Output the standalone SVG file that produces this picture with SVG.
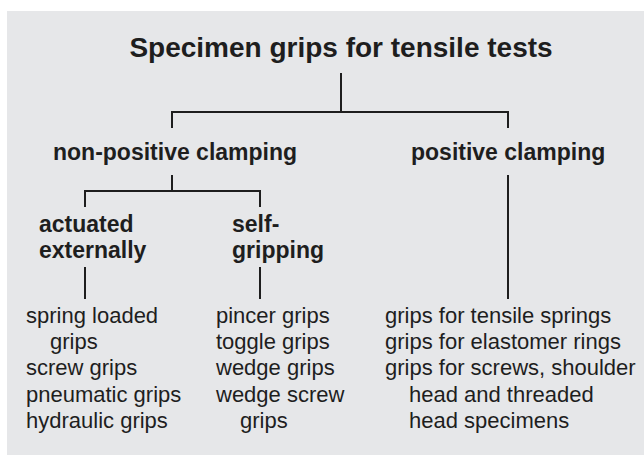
<svg xmlns="http://www.w3.org/2000/svg" width="644" height="455" viewBox="0 0 644 455">
<style>
text{font-family:"Liberation Sans",Arial,Helvetica,sans-serif;fill:#1e1e1e}
.t{font-size:28px;font-weight:bold}
.h{font-size:23px;font-weight:bold}
.l{font-size:22px}
.c{fill:none;stroke:#1e1e1e;stroke-width:2}
</style>
<rect x="0" y="0" width="644" height="455" fill="#ffffff"/>
<rect x="7" y="11" width="637" height="444" fill="#e6e7e9"/>
<g id="connectors" class="c">
<path d="M341 73V112"/>
<path d="M172 128V112H508V128"/>
<path d="M172 175V191"/>
<path d="M85 207V191H260V207"/>
<path d="M85 267V299"/>
<path d="M260 267V299"/>
<path d="M508 175V299"/>
</g>
<g id="title"><text class="t" x="341" y="57" text-anchor="middle">Specimen grips for tensile tests</text></g>
<g id="non-positive"><text class="h" x="53" y="160">non-positive clamping</text></g>
<g id="positive"><text class="h" x="411" y="160">positive clamping</text></g>
<g id="actuated"><text class="h" x="39" y="232">actuated</text><text class="h" x="39" y="258">externally</text></g>
<g id="self-gripping"><text class="h" x="232" y="232">self-</text><text class="h" x="232" y="258">gripping</text></g>
<g id="list-actuated" class="l">
<text class="l" x="26" y="323">spring loaded</text>
<text class="l" x="50" y="349">grips</text>
<text class="l" x="26" y="375">screw grips</text>
<text class="l" x="26" y="402">pneumatic grips</text>
<text class="l" x="26" y="428">hydraulic grips</text>
</g>
<g id="list-self">
<text class="l" x="216" y="323">pincer grips</text>
<text class="l" x="216" y="349">toggle grips</text>
<text class="l" x="216" y="375">wedge grips</text>
<text class="l" x="216" y="402">wedge screw</text>
<text class="l" x="240" y="428">grips</text>
</g>
<g id="list-positive">
<text class="l" x="385" y="323">grips for tensile springs</text>
<text class="l" x="385" y="349">grips for elastomer rings</text>
<text class="l" x="385" y="375">grips for screws, shoulder</text>
<text class="l" x="409" y="402">head and threaded</text>
<text class="l" x="409" y="428">head specimens</text>
</g>
</svg>
